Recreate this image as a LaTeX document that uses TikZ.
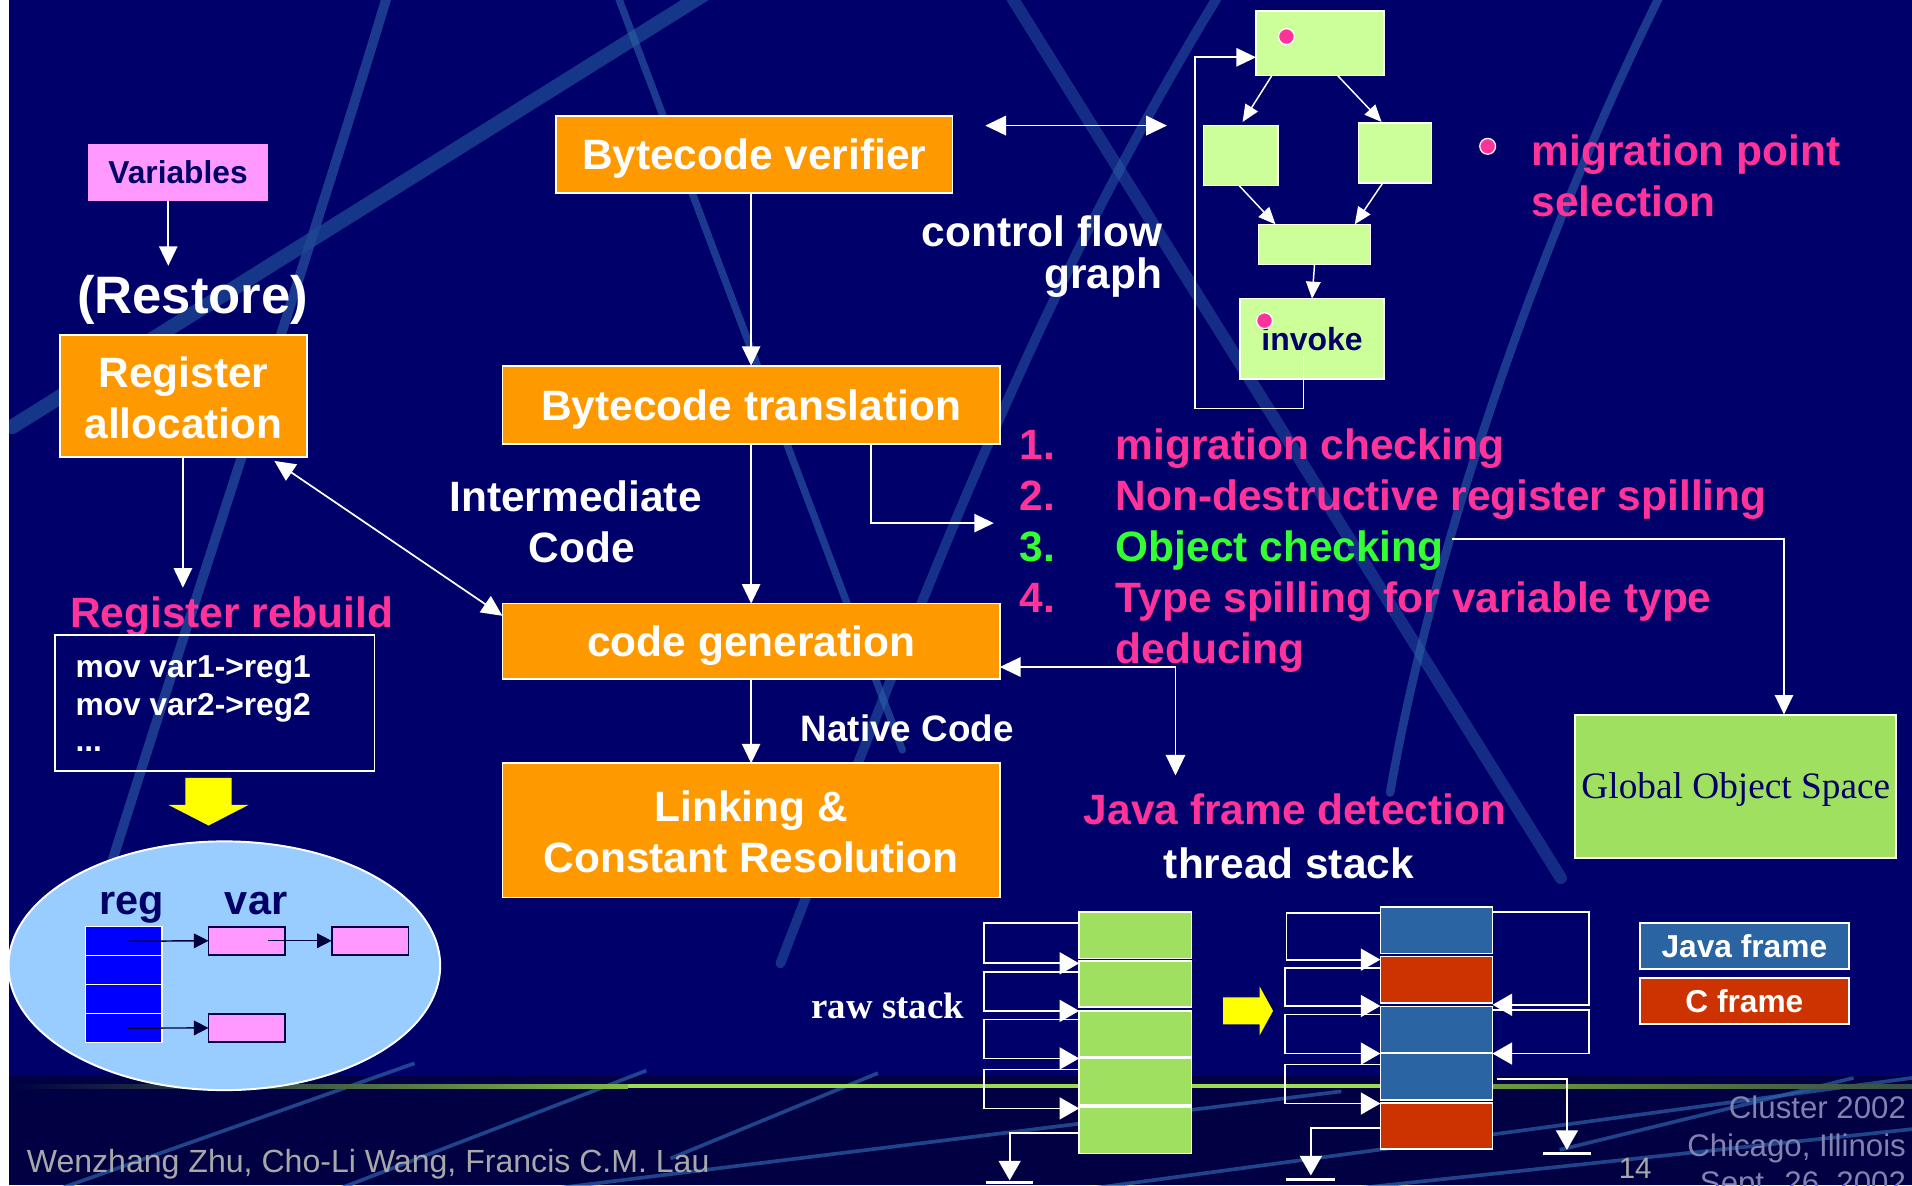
\documentclass[tikz,border=0pt]{standalone}
\usepackage{fontspec}
\setmainfont{Liberation Sans}
\newfontfamily\serifface{Liberation Serif}
\usetikzlibrary{arrows.meta,calc,shapes.geometric}

\definecolor{slidebg}{HTML}{00006A}
\definecolor{footbg}{HTML}{000042}
\definecolor{streak}{HTML}{2D62A8}
\definecolor{streakdark}{HTML}{1E4A94}
\definecolor{boxorange}{HTML}{FF9900}
\definecolor{hotpink}{HTML}{FF3399}
\definecolor{brightgreen}{HTML}{33FF33}
\definecolor{cfggreen}{HTML}{CCFF99}
\definecolor{stackgreen}{HTML}{A0E060}
\definecolor{javablue}{HTML}{2A64A3}
\definecolor{cred}{HTML}{CC3300}
\definecolor{ellblue}{HTML}{99CCFF}
\definecolor{regblue}{HTML}{0000FF}
\definecolor{varpink}{HTML}{FF99FF}
\definecolor{navytext}{HTML}{000066}
\definecolor{footgray}{HTML}{A8A8A8}
\definecolor{footlav}{HTML}{8282B0}
\definecolor{linegreen}{HTML}{99DD55}
\definecolor{yellowarrow}{HTML}{FFFF00}

\newcommand\sizebold[1]{\fontsize{#1}{#1}\selectfont\bfseries}
\newcommand\sizeplain[1]{\fontsize{#1}{#1}\selectfont}

\begin{document}
\begin{tikzpicture}[x=0.5pt,y=-0.5pt,
  every node/.style={inner sep=0pt,outer sep=0pt},
  capc/.style={text height=#1,text depth=0pt},
  lab/.style={anchor=base},
  fmain/.style={font=\sizebold{17.4pt}},
  stage/.style={draw=white,line width=0.7pt,fill=boxorange,text=white,fmain,capc=12.5pt},
  wire/.style={draw=white,line width=0.7pt},
  arr/.style={wire,-{Triangle[length=8pt,width=7.5pt]}},
  darr/.style={wire,{Triangle[length=8.5pt,width=8pt]}-{Triangle[length=8.5pt,width=8pt]}},
  cfgbox/.style={draw=white,line width=0.6pt,fill=cfggreen},
  cfgarr/.style={wire,line width=0.6pt,-{Triangle[length=7pt,width=6pt]}},
  cell/.style={draw=white,line width=0.7pt,minimum width=46pt,minimum height=19pt},
  stk/.style={wire,-{Triangle[length=8pt,width=9pt]}},
  ground/.style={draw=white,line width=1.2pt},
  streakline/.style={draw=streak,line cap=round,opacity=0.6},
  footline/.style={draw=streak,line width=1.5pt,opacity=0.7},
  dot/.style={fill=hotpink,draw=white,line width=0.5pt},
  regcell/.style={fill=regblue,draw=white,line width=0.6pt,minimum width=31.5pt,minimum height=11.9pt},
  varcell/.style={fill=varpink,draw=navytext!70!black,line width=0.8pt,minimum width=31.5pt,minimum height=11.5pt},
  inarr/.style={draw=navytext!60!black,line width=0.6pt,-{Triangle[length=6pt,width=6pt]}},
]
\useasboundingbox (0,0) rectangle (1568,972);
\clip (0,0) rectangle (1568,972);

% ---------- slide background ----------
\fill[slidebg] (0,0) rectangle (1568,972);
\draw[streakline,line width=4pt] (318,-5) .. controls (250,220) and (150,520) .. (72,770);
\draw[streakline,draw=streakdark,line width=6pt,opacity=0.75] (578,-5) -- (10,350);
\draw[streakline,line width=3pt] (506,-5) -- (740,615);
\draw[streakline,line width=5pt,opacity=0.45] (828,-5) -- (1280,720);
\draw[streakline,line width=4pt,opacity=0.5] (1000,-5) .. controls (850,240) and (760,480) .. (640,790);
\draw[streakline,line width=3.5pt] (1362,-5) .. controls (1280,160) and (1180,420) .. (1140,650);

% footer band
\fill[footbg] (7,882) rectangle (1568,972);
\draw[footline] (40,978) -- (340,872);
\draw[footline] (270,978) -- (530,878);
\draw[footline] (452,975) -- (1100,895);
\draw[footline] (550,950) -- (720,880);
\draw[footline] (870,978) -- (1568,884);
\draw[footline] (1080,978) -- (1568,926);
\draw[footline] (1279,943) -- (1520,884);
\shade[left color=footbg,right color=linegreen!85!black] (7,889) rectangle (515,892.5);
\fill[linegreen] (515,889) rectangle (1224,892.5);
\shade[left color=linegreen!70!black,right color=linegreen!35!footbg] (1224,889) rectangle (1568,892.5);
\fill[white] (0,0) rectangle (7,972);

% ---------- register restoration (left) ----------
\node[fill=varpink,minimum width=74pt,minimum height=23.5pt,font=\sizebold{13pt},text=navytext,capc=9.3pt] (vars) at (146,141.5) {Variables};
\node[lab,font=\sizebold{21.6pt},text=white] (restore) at (158,257) {(Restore)};
\coordinate (restoreIn) at (138,218);
\draw[arr] (vars.south -| restoreIn) -- (restoreIn);

\node[stage,minimum width=101.5pt,minimum height=50pt] (regalloc) at (150.5,325) {};
\node[lab,fmain,text=white] (ra1) at (150.5,317.5) {Register};
\node[lab,fmain,text=white] (ra2) at (150.5,359.5) {allocation};

\node[lab,fmain,text=hotpink] (rebuild) at (190,514.5) {Register rebuild};
\coordinate (rebuildIn) at (150,482);
\draw[arr] (regalloc.south -| rebuildIn) -- (rebuildIn);

\node[draw=white,line width=0.7pt,minimum width=131pt,minimum height=55.5pt] (code) at (176,576.5) {};
\node[anchor=base west,font=\sizebold{13pt},text=white] (mov1) at (62,556) {mov var1->reg1};
\node[anchor=base west,font=\sizebold{13pt},text=white] (mov2) at (62,587) {mov var2->reg2};
\node[anchor=base west,font=\sizebold{13pt},text=white] (mov3) at (62,616) {...};

\fill[yellowarrow] (152,638) -- (190,638) -- (190,660) -- (204,660) -- (171,677) -- (138,660) -- (152,660) -- cycle;

\node[ellipse,fill=ellblue,draw=white,line width=0.8pt,minimum width=177pt,minimum height=102pt] (heap) at (184,792) {};
\node[lab,font=\sizebold{17pt},text=navytext] (regt) at (108,750) {reg};
\node[lab,font=\sizebold{17pt},text=navytext] (vart) at (210,750) {var};
\node[regcell] (g1) at (101.5,771.9) {};
\node[regcell] (g2) at (101.5,795.6) {};
\node[regcell] (g3) at (101.5,819.4) {};
\node[regcell] (g4) at (101.5,843.1) {};
\node[varcell] (v1) at (202.5,771.5) {};
\node[varcell] (v2) at (303.5,771.5) {};
\node[varcell] (v3) at (202.5,843) {};
\draw[inarr] ($(g1.center)+(3.5,0)$) -- (v1.west);
\draw[inarr] ($(v1.center)+(17.5,0)$) -- (v2.west);
\draw[inarr] ($(g4.center)+(3.5,0)$) -- (v3.west);

% ---------- compiler pipeline ----------
\node[stage,minimum width=162.5pt,minimum height=31.5pt] (verifier) at (618.5,126.5) {Bytecode verifier};
\node[stage,minimum width=204pt,minimum height=32pt] (translation) at (616,332) {Bytecode translation};
\node[stage,minimum width=204pt,minimum height=31pt] (codegen) at (616,526) {code generation};
\node[stage,minimum width=204pt,minimum height=55pt] (linking) at (616,681) {};
\node[lab,fmain,text=white] (lk1) at (616,673.5) {Linking \&};
\node[lab,fmain,text=white] (lk2) at (616,715.5) {Constant Resolution};
\node[lab,fmain,text=white] (imc1) at (472,419.5) {Intermediate};
\node[lab,fmain,text=white] (imc2) at (477,461.5) {Code};
\node[lab,font=\sizebold{15.1pt},text=white] (native) at (744,607.8) {Native Code};

\draw[arr] (verifier.south -| translation.north) -- (translation.north);
\draw[arr] (translation.south) -- (codegen.north);
\draw[arr] (codegen.south) -- (linking.north);
\draw[darr] ($(regalloc.south east)+(-27,3)$) -- ($(codegen.north west)+(0,10)$);

% ---------- control flow graph ----------
\node[anchor=base east,fmain,text=white] (cf1) at (953,202.5) {control flow};
\node[anchor=base east,fmain,text=white] (cf2) at (953,236.5) {graph};
\node[cfgbox,minimum width=52.5pt,minimum height=26.5pt] (cA) at (1082.5,35.5) {};
\node[cfgbox,minimum width=30.5pt,minimum height=24.5pt] (cB) at (1017.5,127.5) {};
\node[cfgbox,minimum width=30pt,minimum height=24.5pt] (cC) at (1144,125.5) {};
\node[cfgbox,minimum width=46pt,minimum height=16.5pt] (cD) at (1078,200.5) {};
\node[cfgbox,minimum width=59pt,minimum height=33pt,font=\sizebold{13.1pt},text=navytext,capc=9.4pt] (cE) at (1076,278) {invoke};
\draw[cfgarr] ($(cA.south west)+(13,0)$) -- ($(cB.north)+(1.5,-3)$);
\draw[cfgarr] ($(cA.south west)+(67,0)$) -- ($(cC.north west)+(19,-1)$);
\draw[cfgarr] ($(cB.south)+(-1.5,0)$) -- ($(cD.north west)+(14,0)$);
\draw[cfgarr] ($(cC.south)+(-10,0)$) -- ($(cD.north east)+(-13,0)$);
\draw[cfgarr] (cD.south) -- (cE.north);
\coordinate (loopCorner) at (980,335);
\draw[arr] ($(cE.south)+(-7,-19)$) |- (loopCorner) |- ($(cA.west)+(0,11.5)$);
\draw[dot] (1055,30) circle [radius=6.5];
\draw[dot] (1037,263) circle [radius=6.5];
\coordinate (cfgRight) at (957,103);
\draw[darr] ($(verifier.north east)+(27,8)$) -- (cfgRight);

\draw[dot] (1220,120) circle [radius=6.5];
\node[anchor=base west,fmain,text=hotpink] (mp1) at (1256,135.5) {migration point};
\node[anchor=base west,fmain,text=hotpink] (mp2) at (1256,177.5) {selection};

% ---------- code generation tasks ----------
\node[anchor=base west,fmain,text=hotpink] (n1) at (836,376.5) {1.};
\node[anchor=base west,fmain,text=hotpink] (i1) at (915,376.5) {migration checking};
\node[anchor=base west,fmain,text=hotpink] (n2) at (836,418.5) {2.};
\node[anchor=base west,fmain,text=hotpink] (i2) at (915,418.5) {Non-destructive register spilling};
\node[anchor=base west,fmain,text=brightgreen] (n3) at (836,460.5) {3.};
\node[anchor=base west,fmain,text=brightgreen] (i3) at (915,460.5) {Object checking};
\node[anchor=base west,fmain,text=hotpink] (n4) at (836,502.5) {4.};
\node[anchor=base west,fmain,text=hotpink] (i4) at (915,502.5) {Type spilling for variable type};
\node[anchor=base west,fmain,text=hotpink] (i4b) at (915,544.5) {deducing};
\coordinate (listIn) at (815,429);
\draw[arr] ($(translation.south)+(98,0)$) |- (listIn);

\node[fill=stackgreen,draw=white,line width=0.8pt,minimum width=131.5pt,minimum height=59pt,font=\serifface\fontsize{15.3pt}{16pt}\selectfont,text=navytext,capc=10.1pt] (global) at (1423.5,645) {Global Object Space};
\draw[arr] ($(i3.base east)+(7,-18.5)$) -| ($(global.north)+(39.5,0)$);

% ---------- thread stacks ----------
\node[lab,fmain,text=hotpink] (jfd) at (1062,676.5) {Java frame detection};
\node[lab,fmain,text=white] (tstack) at (1057,720.5) {thread stack};
\coordinate (jfdIn) at (964,636);
\draw[darr] ($(codegen.south east)+(0,-10)$) -| (jfdIn);

\node[lab,font=\serifface\bfseries\fontsize{15.1pt}{16pt}\selectfont,text=white] (rawlbl) at (728,835) {raw stack};
\node[cell,fill=stackgreen] (r1) at (931,767) {};
\node[cell,fill=stackgreen] (r2) at (931,807) {};
\node[cell,fill=stackgreen] (r3) at (931,848) {};
\node[cell,fill=stackgreen] (r4) at (931,887) {};
\node[cell,fill=stackgreen] (r5) at (931,927) {};
\draw[stk] (r1.west |- 0,757) -- (807,757) |- (r2.west |- 0,790);
\draw[stk] (r2.west |- 0,797) -- (807,797) |- (r3.west |- 0,829);
\draw[stk] (r3.west |- 0,836) -- (807,836) |- (r4.west |- 0,868);
\draw[stk] (r4.west |- 0,877) -- (807,877) |- (r5.west |- 0,909);
\coordinate (rawEnd) at (828,968);
\draw[stk] (r5.west |- 0,929) -| (rawEnd);
\draw[ground] (809,970) -- (847,970);

\fill[yellowarrow] (1003,818) -- (1033,818) -- (1033,809) -- (1044,829) -- (1033,849) -- (1033,840) -- (1003,840) -- cycle;

\node[cell,fill=javablue] (j1) at (1178,763) {};
\node[cell,fill=cred] (j2) at (1178,803.5) {};
\node[cell,fill=javablue] (j3) at (1178,844.5) {};
\node[cell,fill=javablue] (j4) at (1178,883) {};
\node[cell,fill=cred] (j5) at (1178,923.5) {};
\draw[stk] (j1.west |- 0,749) -- (1055,749) |- (j2.west |- 0,787);
\draw[stk] (j2.west |- 0,794) -- (1054,794) |- (j3.west |- 0,825);
\draw[stk] (j3.west |- 0,832) -- (1054,832) |- (j4.west |- 0,864);
\draw[stk] (j4.west |- 0,873) -- (1054,873) |- (j5.west |- 0,905);
\draw[stk] (j1.east |- 0,748) -- (1303,748) |- (j3.east |- 0,824);
\draw[stk] (j3.east |- 0,828) -- (1303,828) |- (j4.east |- 0,864);
\coordinate (javaEndL) at (1075,964);
\coordinate (javaEndR) at (1285,943);
\draw[stk] (j5.west |- 0,925) -| (javaEndL);
\draw[stk] ($(j4.east |- 0,885)+(4,0)$) -| (javaEndR);
\draw[ground] (1055,967) -- (1095,967);
\draw[ground] (1265,946) -- (1305,946);

\node[fill=javablue,draw=white,line width=0.8pt,minimum width=85.5pt,minimum height=19pt,font=\sizebold{13pt},text=white,capc=9.3pt] (legJava) at (1430.5,776) {Java frame};
\node[fill=cred,draw=white,line width=0.8pt,minimum width=85.5pt,minimum height=19pt,font=\sizebold{13pt},text=white,capc=9.3pt] (legC) at (1430.5,821) {C frame};

% ---------- footer ----------
\node[anchor=base west,font=\sizeplain{13.15pt},text=footgray] (authors) at (22,961.3) {Wenzhang Zhu, Cho-Li Wang, Francis C.M. Lau};
\node[lab,font=\sizeplain{12.1pt},text=footgray] (pageno) at (1341,966.7) {14};
\node[anchor=base east,font=\sizeplain{12.8pt},text=footlav] (conf1) at (1563,917.2) {Cluster 2002};
\node[anchor=base east,font=\sizeplain{12.8pt},text=footlav] (conf2) at (1563,948.2) {Chicago, Illinois};
\node[anchor=base east,font=\sizeplain{12.8pt},text=footlav] (conf3) at (1563,979) {Sept. 26, 2002};
\end{tikzpicture}
\end{document}
